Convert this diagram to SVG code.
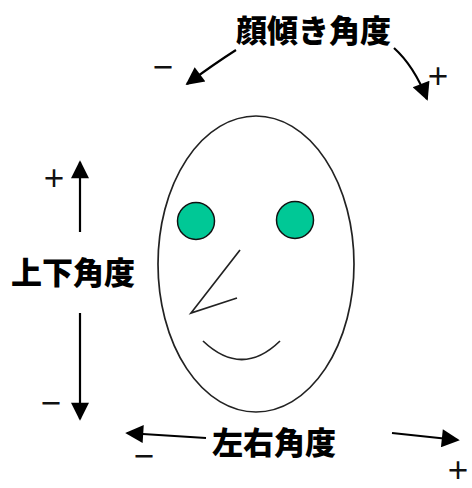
<svg xmlns="http://www.w3.org/2000/svg" width="472" height="488" viewBox="0 0 472 488">
  <style>
    .label { font-family: "Noto Sans CJK JP", "Noto Sans", sans-serif; font-weight: 900; font-size: 31px; fill: #000; }
    .sign { font-family: "Noto Sans CJK JP", "DejaVu Sans", sans-serif; font-weight: bold; font-size: 24px; fill: #111; }
    .arrow { fill: none; stroke: #000; stroke-width: 2.2; marker-end: url(#head); }
    .outline { fill: none; stroke: #222; stroke-width: 1.7; }
    .eye { fill: #00C896; stroke: #111; stroke-width: 1.5; }
  </style>
  <defs>
    <marker id="head" viewBox="0 0 10 10" refX="9" refY="5" markerUnits="userSpaceOnUse" markerWidth="20" markerHeight="18" orient="auto">
      <path d="M0,0 L10,5 L0,10 Z" fill="#000"/>
    </marker>
  </defs>
  <rect width="472" height="488" fill="#fff"/>

  <!-- face -->
  <g id="face">
    <ellipse class="outline" cx="256" cy="264" rx="98" ry="148"/>
    <circle class="eye" cx="196" cy="221" r="18.5"/>
    <circle class="eye" cx="295" cy="220" r="18.5"/>
    <polyline class="outline" points="240,250 191,313 237,298"/>
    <path class="outline" d="M203,341 Q242,378 280,341"/>
  </g>

  <!-- angle labels -->
  <g id="tilt-label"><text class="label" x="236" y="42">顔傾き角度</text></g>
  <g id="pitch-label"><text class="label" x="11" y="284">上下角度</text></g>
  <g id="yaw-label"><text class="label" x="212" y="454">左右角度</text></g>

  <!-- sign marks -->
  <g id="signs">
    <text class="sign" x="151" y="76">－</text>
    <text class="sign" x="426" y="85">＋</text>
    <text class="sign" x="42" y="187">＋</text>
    <text class="sign" x="39" y="412">－</text>
    <text class="sign" x="132" y="465">－</text>
    <text class="sign" x="446" y="479">＋</text>
  </g>

  <!-- connectors -->
  <g id="connectors">
    <path class="arrow" d="M236,50 Q214,64 187,84"/>
    <path class="arrow" d="M394,48 Q414,66 427,99"/>
    <path class="arrow" d="M80,232 L80,162"/>
    <path class="arrow" d="M80,313 L80,419"/>
    <path class="arrow" d="M206,438 L127,433"/>
    <path class="arrow" d="M392,433 L458,440"/>
  </g>
</svg>
